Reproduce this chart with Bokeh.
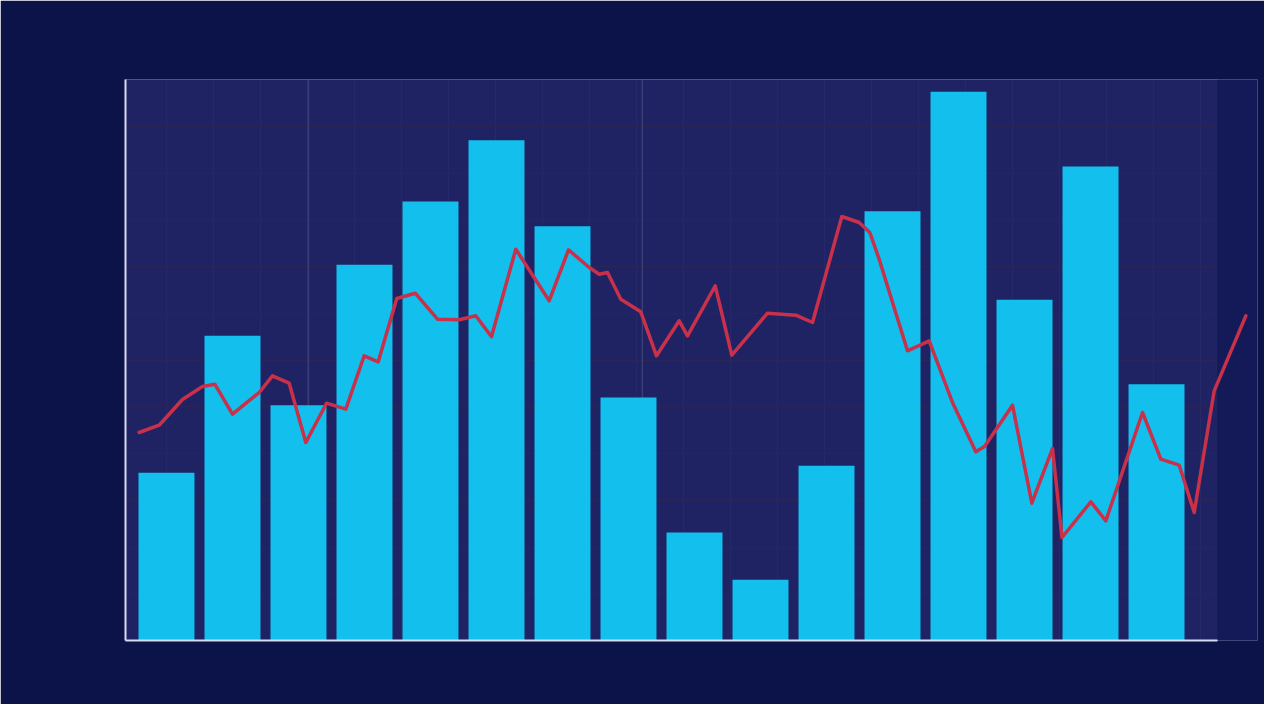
from bokeh.plotting import figure
from bokeh.models import Range1d, SingleIntervalTicker, FixedTicker, BoxAnnotation, Span
from bokeh.embed import file_html
from bokeh.resources import INLINE

# Bar series (16 periods)
bar_x = list(range(16))
bar_values = [3.59, 6.52, 5.03, 8.04, 9.39, 10.70, 8.86, 5.20,
              2.31, 1.30, 3.74, 9.18, 11.74, 7.29, 10.14, 5.48]

# Red line series
line_x = [-0.414, -0.111, 0.242, 0.545, 0.732, 1.0, 1.405, 1.606, 1.859, 2.111,
          2.424, 2.717, 2.995, 3.208, 3.489, 3.768, 4.106, 4.435, 4.686, 4.924,
          5.292, 5.798, 6.091, 6.405, 6.556, 6.682, 6.883, 7.186, 7.424, 7.768,
          7.894, 8.314, 8.565, 9.106, 9.535, 9.788, 10.232, 10.495, 10.656, 10.798,
          11.227, 11.556, 11.909, 12.262, 12.394, 12.818, 13.111, 13.424, 13.568,
          14.005, 14.232, 14.788, 15.065, 15.344, 15.571, 15.874, 16.353]
line_y = [4.449, 4.605, 5.155, 5.433, 5.482, 4.841, 5.305, 5.662, 5.504, 4.235,
          5.076, 4.948, 6.090, 5.961, 7.316, 7.429, 6.873, 6.860, 6.945, 6.496,
          8.370, 7.266, 8.357, 7.979, 7.835, 7.872, 7.301, 7.031, 6.090, 6.838,
          6.518, 7.587, 6.103, 7.001, 6.958, 6.802, 9.070, 8.941, 8.727, 8.156,
          6.197, 6.411, 5.091, 4.036, 4.150, 5.033, 2.937, 4.107, 2.203,
          2.967, 2.560, 4.877, 3.878, 3.750, 2.738, 5.341, 6.945]

X_START, X_END, X_AXIS_END = -0.621, 16.53, 15.92
Y_START, Y_END = 0, 12

p = figure(width=1264, height=704, output_backend="svg", toolbar_location=None,
           x_range=Range1d(X_START, X_END), y_range=Range1d(Y_START, Y_END),
           min_border_left=125, min_border_right=7, min_border_top=79,
           min_border_bottom=64)

p.border_fill_color = "#0b1349"
p.background_fill_color = "#1f2363"
p.outline_line_color = None

# Axes: plain lines, no ticks or labels
for ax in (p.xaxis, p.yaxis):
    ax.ticker = FixedTicker(ticks=[])
    ax.major_tick_line_color = None
    ax.minor_tick_line_color = None
    ax.axis_line_color = "#d8dcf0"
    ax.axis_line_width = 2
p.xaxis.bounds = (X_START, X_AXIS_END)

# Faint background cells
p.ygrid.ticker = SingleIntervalTicker(interval=1)
p.xgrid.ticker = SingleIntervalTicker(interval=0.712)
p.ygrid.grid_line_color = "#2e2552"
p.ygrid.grid_line_alpha = 0.9
p.xgrid.grid_line_color = "#2a2d6c"
p.xgrid.grid_line_alpha = 0.6

# Region right of the panel is darker
p.add_layout(BoxAnnotation(left=X_AXIS_END, fill_color="#141a57", fill_alpha=1.0,
                           line_color=None, level="underlay"))
for xs in (2.15, 7.21):
    p.add_layout(Span(location=xs, dimension="height", line_color="#6a6f9a",
                      line_alpha=0.35, line_width=1.5, level="underlay"))

p.vbar(x=bar_x, top=bar_values, width=0.848, bottom=0,
       fill_color="#13c0ed", line_color=None)

p.line(line_x, line_y, line_color="#c9304a", line_width=3.5,
       line_join="round", line_cap="round")

open("out.html", "w").write(file_html(p, INLINE))
